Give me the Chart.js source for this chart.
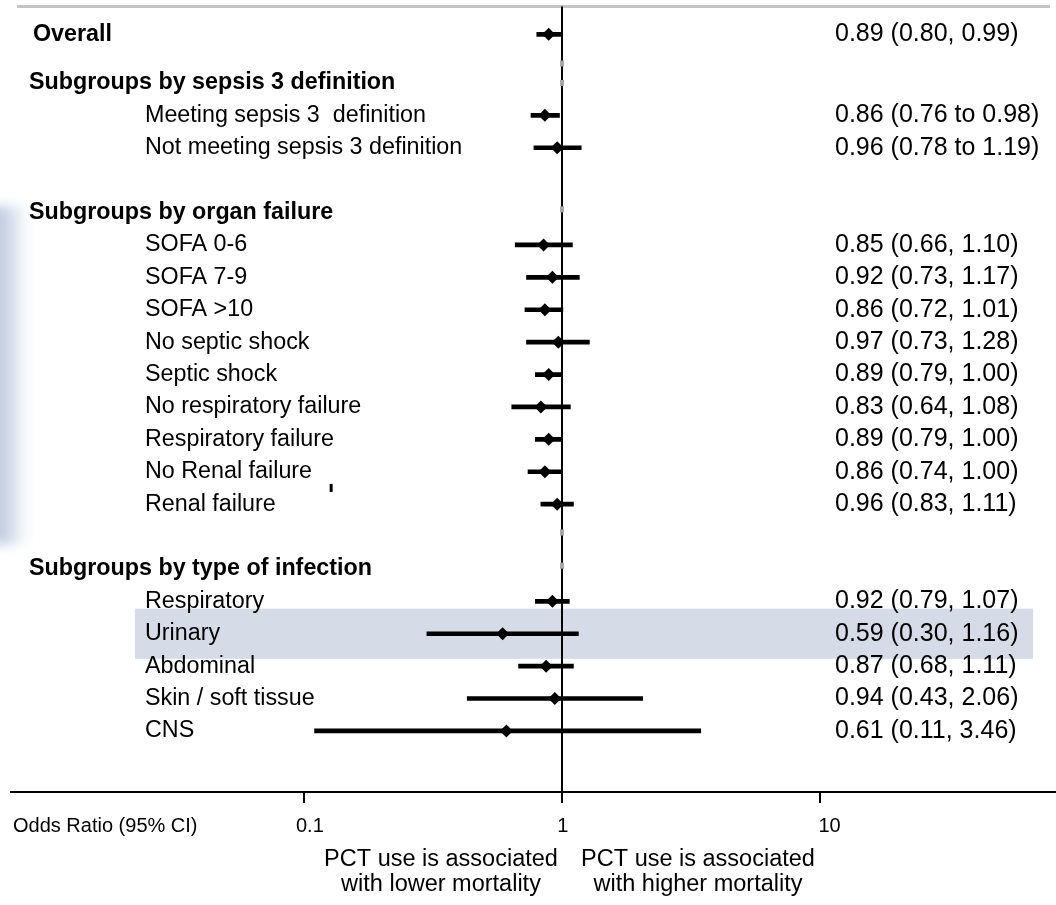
<!DOCTYPE html>
<html>
<head>
<meta charset="utf-8">
<title>PCT use and mortality – forest plot</title>
<script src="https://cdn.jsdelivr.net/npm/chart.js@4/dist/chart.umd.min.js"></script>
<style>
  html, body { margin: 0; padding: 0; background: #ffffff; }
  canvas { display: block; }
</style>
</head>
<body>
<canvas id="forest" width="1056" height="905"></canvas>
<script>
// ---- data -------------------------------------------------------------
const overallLabel = 'Overall';
const overallEstimate = [0.89, 0.80, 0.99];

const groupTitles = [
  'Subgroups by sepsis 3 definition',
  'Subgroups by organ failure',
  'Subgroups by type of infection'
];
const groupSizes = [2, 9, 5];
const groupSeparators = [' to ', ', ', ', '];

const subgroupLabels = [
  'Meeting sepsis 3  definition',
  'Not meeting sepsis 3 definition',
  'SOFA 0-6',
  'SOFA 7-9',
  'SOFA >10',
  'No septic shock',
  'Septic shock',
  'No respiratory failure',
  'Respiratory failure',
  'No Renal failure',
  'Renal failure',
  'Respiratory',
  'Urinary',
  'Abdominal',
  'Skin / soft tissue',
  'CNS'
];
const oddsRatios = [0.86, 0.96, 0.85, 0.92, 0.86, 0.97, 0.89, 0.83, 0.89, 0.86, 0.96, 0.92, 0.59, 0.87, 0.94, 0.61];
const lowerCI    = [0.76, 0.78, 0.66, 0.73, 0.72, 0.73, 0.79, 0.64, 0.79, 0.74, 0.83, 0.79, 0.30, 0.68, 0.43, 0.11];
const upperCI    = [0.98, 1.19, 1.10, 1.17, 1.01, 1.28, 1.00, 1.08, 1.00, 1.00, 1.11, 1.07, 1.16, 1.11, 2.06, 3.46];

const axisTicks = [0.1, 1, 10];
const axisTickLabels = ['0.1', '1', '10'];
const highlightedLabel = 'Urinary';

// ---- row layout (y in half-row steps, top to bottom) ----------------
const ITEM_STEP = 2;
const HEADER_GAPS = [3, 4, 4];

const fmt = v => v.toFixed(2);
const rows = [];
let pos = 0;
rows.push({ kind: 'overall', label: overallLabel, y: pos,
            or: overallEstimate[0], lo: overallEstimate[1], hi: overallEstimate[2], sep: ', ' });
let k = 0;
groupTitles.forEach((title, g) => {
  pos += HEADER_GAPS[g];
  rows.push({ kind: 'header', label: title, y: pos });
  for (let i = 0; i < groupSizes[g]; i++, k++) {
    pos += ITEM_STEP;
    rows.push({ kind: 'item', label: subgroupLabels[k], y: pos,
                or: oddsRatios[k], lo: lowerCI[k], hi: upperCI[k], sep: groupSeparators[g] });
  }
});
const estimateRows = rows.filter(r => r.kind !== 'header');

// ---- drawing helpers -------------------------------------------------
const FONT = '"Liberation Sans", Arial, Helvetica, sans-serif';
const TICK_LABEL_NUDGE = [6, 1, 10];

const forestDecor = {
  id: 'forestDecor',
  beforeDatasetsDraw(chart) {
    const { ctx, chartArea: ca, scales: { x, y } } = chart;
    const W = chart.width;
    const rowPx = Math.abs(y.getPixelForValue(1) - y.getPixelForValue(0));
    ctx.save();

    // soft blue haze along the left edge
    const hy0 = y.getPixelForValue(10.6), hy1 = y.getPixelForValue(31.5);
    ctx.filter = 'blur(6px)';
    const grad = ctx.createLinearGradient(0, 0, 34, 0);
    grad.addColorStop(0, 'rgba(188,200,222,0.95)');
    grad.addColorStop(0.45, 'rgba(212,220,234,0.75)');
    grad.addColorStop(1, 'rgba(255,255,255,0)');
    ctx.fillStyle = grad;
    ctx.fillRect(-12, hy0, 46, hy1 - hy0);
    ctx.filter = 'none';

    // highlighted row band
    const hl = rows.find(r => r.label === highlightedLabel);
    if (hl) {
      const cy = y.getPixelForValue(hl.y);
      const half = rowPx * 1.55;
      ctx.fillStyle = '#d5dce8';
      ctx.fillRect(135, cy - half, 1033 - 135, half * 2);
    }

    // light rule across the top
    ctx.strokeStyle = '#c4c4c4';
    ctx.lineWidth = 3;
    ctx.beginPath();
    ctx.moveTo(17, ca.top);
    ctx.lineTo(1050, ca.top);
    ctx.stroke();

    // line of no effect (OR = 1)
    const x1 = Math.round(x.getPixelForValue(1));
    ctx.strokeStyle = '#000000';
    ctx.lineWidth = 2;
    ctx.beginPath();
    ctx.moveTo(x1, ca.top);
    ctx.lineTo(x1, ca.bottom);
    ctx.stroke();
    // faint breaks in the reference line near the headers
    ctx.fillStyle = '#a8a8a8';
    [1.8, 3.0, 10.8, 30.75, 32.8].forEach(v => {
      const py = y.getPixelForValue(v);
      ctx.fillRect(x1 - 2, py - 3, 4, 6);
    });

    // x axis line and ticks
    ctx.strokeStyle = '#000000';
    ctx.lineWidth = 2;
    ctx.beginPath();
    ctx.moveTo(ca.left, ca.bottom);
    ctx.lineTo(W, ca.bottom);
    axisTicks.forEach(t => {
      const px = Math.round(x.getPixelForValue(t));
      ctx.moveTo(px, ca.bottom);
      ctx.lineTo(px, ca.bottom + 11);
    });
    ctx.stroke();

    // stray mark beside the renal row
    ctx.fillStyle = '#000000';
    const sx = x.getPixelForValue(0.127), sy = y.getPixelForValue(28);
    ctx.fillRect(sx - 1, sy - 4, 3, 8);

    ctx.restore();
  },
  afterDatasetsDraw(chart) {
    const { ctx, chartArea: ca, scales: { x, y } } = chart;
    ctx.save();
    ctx.fillStyle = '#000000';
    ctx.textBaseline = 'middle';

    rows.forEach(r => {
      const py = y.getPixelForValue(r.y);
      ctx.textAlign = 'left';
      if (r.kind === 'overall') {
        ctx.font = 'bold 23.3px ' + FONT;
        ctx.fillText(r.label, 33, py);
      } else if (r.kind === 'header') {
        ctx.font = 'bold 23.3px ' + FONT;
        ctx.fillText(r.label, 29, py);
      } else {
        ctx.font = '23.3px ' + FONT;
        ctx.fillText(r.label, 145, py);
      }
      if (r.kind !== 'header') {
        ctx.font = '25px ' + FONT;
        ctx.fillText(`${fmt(r.or)} (${fmt(r.lo)}${r.sep}${fmt(r.hi)})`, 835, py);
      }
    });

    // axis tick labels and captions
    const labelY = ca.bottom + 34;
    ctx.font = '20px ' + FONT;
    ctx.textAlign = 'center';
    axisTicks.forEach((t, i) => {
      ctx.fillText(axisTickLabels[i], x.getPixelForValue(t) + TICK_LABEL_NUDGE[i], labelY);
    });
    ctx.textAlign = 'left';
    ctx.fillText('Odds Ratio (95% CI)', 13, labelY);

    ctx.textAlign = 'center';
    ctx.font = '23.5px ' + FONT;
    const leftCx = 441, rightCx = 698;
    ctx.fillText('PCT use is associated', leftCx, ca.bottom + 68);
    ctx.fillText('with lower mortality', leftCx, ca.bottom + 93);
    ctx.fillText('PCT use is associated', rightCx, ca.bottom + 68);
    ctx.fillText('with higher mortality', rightCx, ca.bottom + 93);
    ctx.restore();
  }
};

// ---- chart -------------------------------------------------------------
new Chart(document.getElementById('forest'), {
  type: 'bar',
  data: {
    datasets: [
      {
        type: 'bar',
        label: '95% CI',
        data: estimateRows.map(r => ({ x: [r.lo, r.hi], y: r.y })),
        backgroundColor: '#000000',
        borderWidth: 0,
        barThickness: 4,
        order: 2
      },
      {
        type: 'scatter',
        label: 'Odds ratio',
        data: estimateRows.map(r => ({ x: r.or, y: r.y })),
        pointStyle: 'rectRot',
        pointRadius: 6.5,
        pointHoverRadius: 6.5,
        backgroundColor: '#000000',
        borderColor: '#000000',
        borderWidth: 0,
        order: 1
      }
    ]
  },
  options: {
    indexAxis: 'y',
    responsive: false,
    animation: false,
    devicePixelRatio: 1,
    layout: { padding: { left: 10, right: 0, top: 5, bottom: 113 } },
    plugins: { legend: { display: false }, tooltip: { enabled: false } },
    scales: {
      x: { type: 'logarithmic', display: false, min: 0.00725, max: 77.9 },
      y: { type: 'linear', display: false, reverse: true, offset: false, min: -1.72, max: 46.77 }
    }
  },
  plugins: [forestDecor]
});
</script>
</body>
</html>
